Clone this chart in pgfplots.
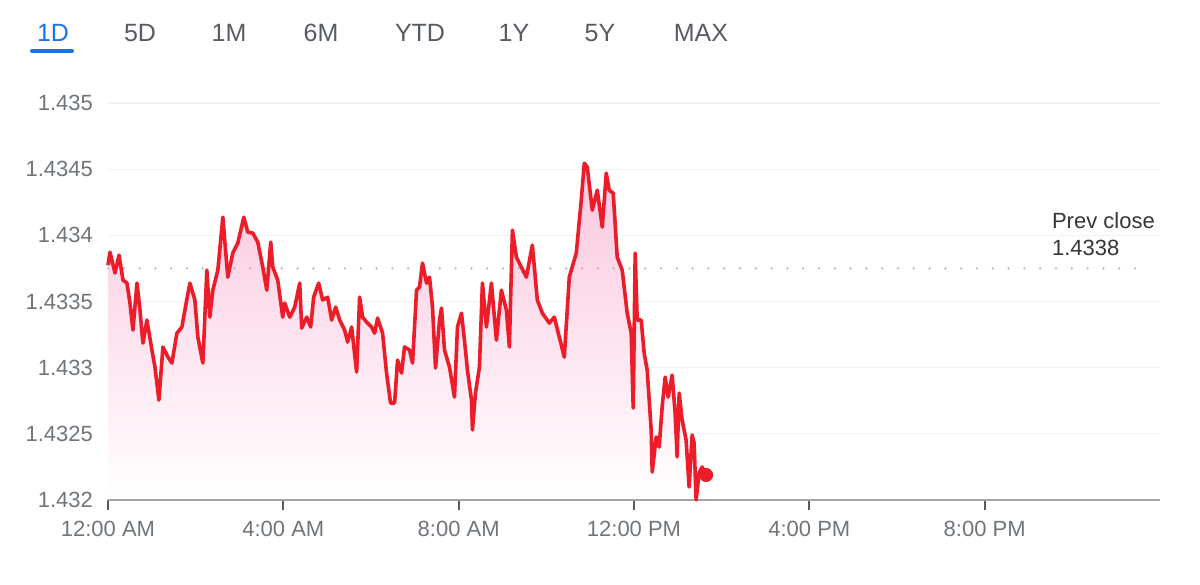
\documentclass[border=0pt]{standalone}
\usepackage{pgfplots}
\pgfplotsset{compat=1.18}
\usepackage{fontspec}
\setmainfont{Liberation Sans}
\definecolor{linered}{RGB}{236,28,40}
\definecolor{fillpink}{RGB}{250,198,222}
\definecolor{tabblue}{RGB}{26,115,232}
\definecolor{tabgray}{RGB}{88,92,97}
\definecolor{tickgray}{RGB}{112,117,122}
\definecolor{axisgray}{RGB}{160,164,168}
\definecolor{darktext}{RGB}{50,54,57}

% intraday quote, hours since midnight
\pgfplotstableread{
h v
0.000 1.433775
0.046 1.433873
0.159 1.433715
0.251 1.433850
0.342 1.433662
0.433 1.433639
0.501 1.433488
0.569 1.433284
0.661 1.433639
0.729 1.433435
0.797 1.433186
0.888 1.433360
1.002 1.433133
1.071 1.433005
1.162 1.432755
1.253 1.433156
1.367 1.433080
1.458 1.433035
1.572 1.433261
1.686 1.433307
1.754 1.433435
1.868 1.433639
1.982 1.433511
2.050 1.433231
2.164 1.433035
2.255 1.433737
2.323 1.433382
2.392 1.433586
2.506 1.433737
2.620 1.434137
2.733 1.433684
2.847 1.433866
2.961 1.433941
3.098 1.434137
3.189 1.434024
3.303 1.434017
3.417 1.433949
3.531 1.433760
3.622 1.433586
3.713 1.433949
3.759 1.433760
3.872 1.433662
3.986 1.433382
4.032 1.433488
4.146 1.433382
4.260 1.433458
4.374 1.433639
4.419 1.433299
4.533 1.433382
4.624 1.433307
4.692 1.433533
4.806 1.433639
4.897 1.433511
5.011 1.433533
5.103 1.433360
5.194 1.433458
5.285 1.433360
5.399 1.433284
5.467 1.433193
5.558 1.433307
5.672 1.432967
5.740 1.433533
5.809 1.433382
5.900 1.433344
6.014 1.433307
6.082 1.433261
6.150 1.433375
6.264 1.433261
6.355 1.432959
6.446 1.432733
6.538 1.432733
6.606 1.433057
6.697 1.432959
6.765 1.433156
6.879 1.433133
6.948 1.433035
7.039 1.433586
7.107 1.433609
7.175 1.433790
7.267 1.433639
7.335 1.433684
7.403 1.433458
7.472 1.432997
7.563 1.433360
7.608 1.433450
7.677 1.433133
7.790 1.433005
7.904 1.432778
7.973 1.433307
8.064 1.433412
8.132 1.433208
8.200 1.432982
8.292 1.432755
8.314 1.432529
8.383 1.432808
8.474 1.433005
8.542 1.433639
8.633 1.433307
8.747 1.433639
8.861 1.433208
8.975 1.433586
9.089 1.433435
9.157 1.433156
9.226 1.434039
9.317 1.433835
9.431 1.433760
9.544 1.433684
9.681 1.433926
9.795 1.433511
9.909 1.433412
10.068 1.433337
10.182 1.433382
10.296 1.433231
10.410 1.433080
10.524 1.433684
10.683 1.433866
10.797 1.434266
10.866 1.434545
10.934 1.434515
11.048 1.434190
11.162 1.434341
11.276 1.434062
11.367 1.434470
11.435 1.434341
11.526 1.434319
11.617 1.433835
11.731 1.433737
11.845 1.433412
11.936 1.433261
11.982 1.432695
12.027 1.433866
12.073 1.433360
12.164 1.433360
12.232 1.433110
12.301 1.432982
12.392 1.432529
12.415 1.432211
12.506 1.432476
12.574 1.432400
12.642 1.432702
12.711 1.432929
12.779 1.432778
12.870 1.432944
12.938 1.432657
12.984 1.432325
13.030 1.432808
13.098 1.432604
13.189 1.432453
13.257 1.432098
13.326 1.432491
13.371 1.432431
13.417 1.432000
13.485 1.432204
13.554 1.432249
13.645 1.432189
}\quote

\begin{document}
\begin{tikzpicture}
\useasboundingbox (0,0) rectangle (600pt,292pt);

% range tabs
\begin{scope}[every node/.style={font=\fontsize{12.5}{14}\selectfont, text=tabgray}]
  \node[text=tabblue] at (26.5pt,275.5pt) {1D};
  \node at (70pt,275.5pt) {5D};
  \node at (114.5pt,275.5pt) {1M};
  \node at (160.5pt,275.5pt) {6M};
  \node at (210pt,275.5pt) {YTD};
  \node at (257pt,275.5pt) {1Y};
  \node at (300pt,275.5pt) {5Y};
  \node at (350.5pt,275.5pt) {MAX};
\end{scope}
\draw[tabblue, line width=2pt, line cap=round] (16pt,266.5pt) -- (36pt,266.5pt);

\begin{axis}[
  at={(54pt,42pt)}, anchor=south west,
  scale only axis, width=526pt, height=198.5pt,
  xmin=0, xmax=24, ymin=1.432, ymax=1.435,
  axis x line*=bottom, axis y line*=left,
  separate axis lines,
  x axis line style={draw=axisgray, line width=1pt, -},
  y axis line style={draw=none},
  xtick={0,4,8,12,16,20},
  xticklabels={12:00 AM,4:00 AM,8:00 AM,12:00 PM,4:00 PM,8:00 PM},
  xtick align=outside,
  major tick length=5pt,
  xtick style={draw=tabgray, line width=1pt},
  ytick={1.432,1.4325,1.433,1.4335,1.434,1.4345,1.435},
  yticklabels={1.432,1.4325,1.433,1.4335,1.434,1.4345,1.435},
  ytick style={draw=none},
  ymajorgrids, grid style={draw=gray!10, line width=0.6pt},
  tick label style={font=\fontsize{11}{13}\selectfont, text=tickgray},
  yticklabel style={xshift=-4pt},
  xticklabel style={yshift=-2pt},
  clip=false,
]
  % shaded area under the quote
  \addplot[draw=none, shade, top color=fillpink, bottom color=white] table[x=h, y=v] {\quote} \closedcycle;
  % baseline again, over the shading
  \addplot[axisgray, line width=1pt] coordinates {(0,1.432) (24,1.432)};
  % previous close
  \addplot[draw=gray!55, line width=1.3pt, line cap=round, dash pattern=on 0pt off 7.9pt] coordinates {(0,1.43375) (23.75,1.43375)};
  % quote line
  \addplot[linered, line width=1.8pt, line join=round] table[x=h, y=v] {\quote};
  \addplot[linered, only marks, mark=*, mark size=3.3pt] coordinates {(13.645,1.432189)};
\end{axis}

\node[anchor=west, font=\fontsize{11}{13}\selectfont, text=darktext] at (522.5pt,181.5pt) {Prev close};
\node[anchor=west, font=\fontsize{11}{13}\selectfont, text=darktext] at (522.5pt,168pt) {1.4338};
\end{tikzpicture}
\end{document}
